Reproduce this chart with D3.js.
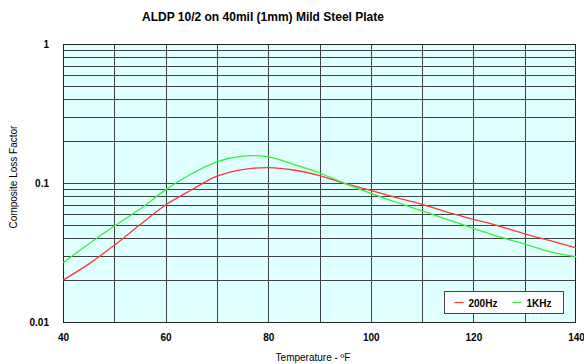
<!DOCTYPE html>
<html>
<head>
<meta charset="utf-8">
<script src="https://cdn.jsdelivr.net/npm/d3@7"></script>
<style>
  body { margin: 0; background: #fff; }
  text { font-family: "Liberation Sans", Arial, sans-serif; }
</style>
</head>
<body>
<div id="chart"></div>
<script>
// temperatures in deg F
const temps = [40, 45, 50, 55, 60, 65, 70, 75, 80, 85, 90, 95, 100, 105, 110, 115, 120, 125, 130, 135, 140];
const loss200Hz = [0.020, 0.0261, 0.0356, 0.050, 0.0695, 0.089, 0.112, 0.125, 0.129, 0.124, 0.113, 0.099, 0.0886, 0.0784, 0.0703, 0.0614, 0.0548, 0.049, 0.043, 0.0385, 0.0342];
const loss1KHz = [0.0267, 0.0364, 0.049, 0.065, 0.0892, 0.116, 0.142, 0.156, 0.154, 0.136, 0.118, 0.099, 0.0843, 0.0727, 0.063, 0.0546, 0.0472, 0.0411, 0.0364, 0.032, 0.0295];
const seriesNames = ["200Hz", "1KHz"];
const seriesColors = ["#ff3838", "#38f038"];
const xTicks = [40, 60, 80, 100, 120, 140];
const yTicks = [0.01, 0.1, 1];

const width = 584, height = 364;
const margin = {top: 44, right: 8, bottom: 42, left: 63};
const plotW = width - margin.left - margin.right;
const plotH = height - margin.top - margin.bottom;

const svg = d3.select("#chart").append("svg")
    .attr("width", width).attr("height", height);

const x = d3.scaleLinear().domain([40, 140]).range([0, plotW]);
const y = d3.scaleLog().domain([0.01, 1]).range([plotH, 0]);

const g = svg.append("g").attr("transform", `translate(${margin.left},${margin.top})`);

g.append("rect")
    .attr("width", plotW).attr("height", plotH)
    .attr("fill", "#e0ffff");

// grid lines
const hLines = [];
for (let d = 0.01; d < 1; d *= 10) {
  for (let k = 2; k <= 9; k++) hLines.push(+(d * k).toPrecision(3));
}
hLines.push(0.1);
g.append("g").selectAll("line").data(hLines).enter().append("line")
    .attr("x1", 0).attr("x2", plotW)
    .attr("y1", d => Math.round(y(d)) + 0.5).attr("y2", d => Math.round(y(d)) + 0.5)
    .attr("stroke", "#3a4444").attr("stroke-width", 1);

const vLines = d3.range(50, 140, 10);
g.append("g").selectAll("line").data(vLines).enter().append("line")
    .attr("y1", 0).attr("y2", plotH)
    .attr("x1", d => Math.round(x(d)) + 0.5).attr("x2", d => Math.round(x(d)) + 0.5)
    .attr("stroke", "#3a4444").attr("stroke-width", 1);

g.append("rect")
    .attr("x", 0.5).attr("y", 0.5)
    .attr("width", plotW - 1).attr("height", plotH)
    .attr("fill", "none").attr("stroke", "#222").attr("stroke-width", 1);

// axes (labels only)
const xAxis = g.append("g").attr("transform", `translate(0,${plotH})`)
    .call(d3.axisBottom(x).tickValues(xTicks).tickSize(0).tickPadding(12).tickFormat(d3.format("d")));
xAxis.select(".domain").remove();
xAxis.selectAll("text").attr("font-size", 10).attr("font-weight", "bold").attr("fill", "#000")
    .style("font-family", "'Liberation Sans', Arial, sans-serif");

const yAxis = g.append("g")
    .call(d3.axisLeft(y).tickValues(yTicks).tickSize(0).tickPadding(14).tickFormat(d => d3.format("~g")(d)));
yAxis.select(".domain").remove();
yAxis.selectAll("text").attr("font-size", 10).attr("font-weight", "bold").attr("fill", "#000")
    .style("font-family", "'Liberation Sans', Arial, sans-serif");

// curves
const line = d3.line()
    .x((d, i) => x(temps[i]))
    .y(d => y(d))
    .curve(d3.curveCatmullRom.alpha(0.5));

[loss200Hz, loss1KHz].forEach((vals, i) => {
  g.append("path").datum(vals)
      .attr("d", line)
      .attr("fill", "none")
      .attr("stroke", seriesColors[i])
      .attr("stroke-width", 1.3);
});

// title
svg.append("text")
    .attr("x", 263).attr("y", 21)
    .attr("text-anchor", "middle")
    .attr("font-size", 12).attr("font-weight", "bold")
    .text("ALDP 10/2 on 40mil (1mm) Mild Steel Plate");

svg.append("text")
    .attr("x", 313).attr("y", 361)
    .attr("text-anchor", "middle")
    .attr("font-size", 10)
    .text("Temperature - ºF");

svg.append("text")
    .attr("transform", `translate(17,${margin.top + plotH / 2 - 6}) rotate(-90)`)
    .attr("text-anchor", "middle")
    .attr("font-size", 10)
    .text("Composite Loss Factor");

// legend
const legend = svg.append("g").attr("transform", "translate(444.5,291.5)");
legend.append("rect")
    .attr("width", 119).attr("height", 22)
    .attr("fill", "#fff").attr("stroke", "#444");
seriesNames.forEach((name, i) => {
  const lx = 10 + i * 58;
  legend.append("line")
      .attr("x1", lx).attr("x2", lx + 9)
      .attr("y1", 11).attr("y2", 11)
      .attr("stroke", seriesColors[i]).attr("stroke-width", 1.3);
  legend.append("text")
      .attr("x", lx + 14).attr("y", 15)
      .attr("font-size", 10).attr("font-weight", "bold")
      .text(name);
});
</script>
</body>
</html>
